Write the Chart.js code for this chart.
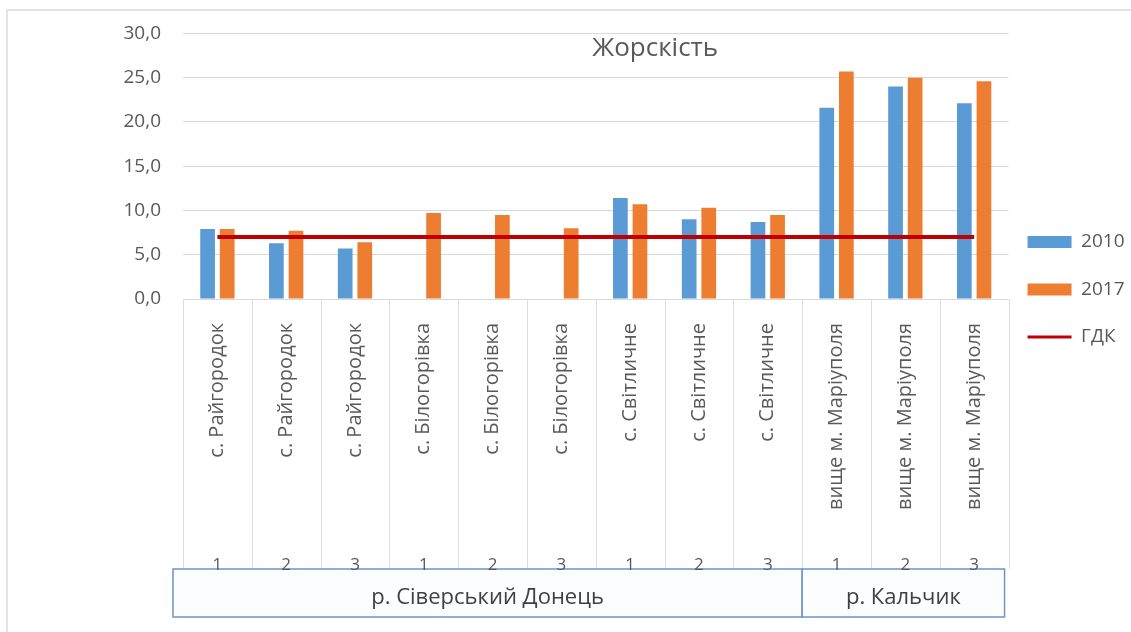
<!DOCTYPE html>
<html>
<head>
<meta charset="utf-8">
<script src="https://cdn.jsdelivr.net/npm/chart.js@4.4.1/dist/chart.umd.min.js"></script>
<style>
    html, body { margin: 0; padding: 0; background: #fff; }
    #wrap { position: relative; width: 1131px; height: 632px; }
    #frame { position: absolute; left: 6px; top: 9px; right: 0; bottom: 0;
             border-top: 2px solid #e4e4e4; border-left: 2px solid #e4e4e4; pointer-events: none; }
</style>
</head>
<body>
<div id="wrap">
    <canvas id="chart" width="1131" height="632"></canvas>
    <div id="frame"></div>
</div>
<script>
// Дані графіка
const chartTitle = 'Жорскість';
const sites = [
    'с. Райгородок', 'с. Райгородок', 'с. Райгородок',
    'с. Білогорівка', 'с. Білогорівка', 'с. Білогорівка',
    'с. Світличне', 'с. Світличне', 'с. Світличне',
    'вище м. Маріуполя', 'вище м. Маріуполя', 'вище м. Маріуполя'
];
const points = ['1', '2', '3', '1', '2', '3', '1', '2', '3', '1', '2', '3'];
const rivers = ['р. Сіверський Донець', 'р. Кальчик'];
const riverSpans = [9, 3];
const values2010 = [7.9, 6.3, 5.7, null, null, null, 11.4, 9.0, 8.7, 21.6, 24.0, 22.1];
const values2017 = [7.9, 7.7, 6.4, 9.7, 9.5, 8.0, 10.7, 10.3, 9.5, 25.7, 25.0, 24.6];
const gdk = [7, 7, 7, 7, 7, 7, 7, 7, 7, 7, 7, 7];
const yMin = 0, yMax = 30, yStep = 5;

Chart.defaults.font.family = '"Open Sans", sans-serif';
Chart.defaults.color = '#595959';

// Заголовок усередині області графіка
const plotTitle = {
    id: 'plotTitle',
    afterDraw(chart, args, opts) {
        const {ctx, chartArea} = chart;
        ctx.save();
        ctx.font = '26px "Open Sans", sans-serif';
        ctx.fillStyle = '#595959';
        ctx.textAlign = 'center';
        ctx.textBaseline = 'middle';
        ctx.fillText(opts.text, chartArea.left + chartArea.width * 0.572, chartArea.top + 15);
        ctx.restore();
    }
};

// Розділювачі категорій, номери точок та рамки річок під віссю
const riverBoxes = {
    id: 'riverBoxes',
    beforeDraw(chart) {
        const {ctx, chartArea} = chart;
        const x = chart.scales.x;
        const step = x.getPixelForValue(1) - x.getPixelForValue(0);
        const edge = i => x.getPixelForValue(0) - step / 2 + i * step;
        const boxTop = chartArea.bottom + 270;
        const boxBottom = boxTop + 48;

        ctx.save();
        ctx.strokeStyle = '#dcdcdc';
        ctx.lineWidth = 1;
        for (let i = 0; i <= sites.length; i++) {
            const px = Math.round(edge(i)) + 0.5;
            ctx.beginPath();
            ctx.moveTo(px, chartArea.bottom);
            ctx.lineTo(px, boxTop);
            ctx.stroke();
        }

        let start = 0;
        rivers.forEach((name, k) => {
            let left = edge(start);
            let right = edge(start + riverSpans[k]);
            if (k === 0) left -= 10;
            if (k === rivers.length - 1) right -= 4;
            ctx.fillStyle = '#fbfdff';
            ctx.fillRect(left, boxTop, right - left, boxBottom - boxTop);
            ctx.strokeStyle = '#6f93c6';
            ctx.lineWidth = 1.5;
            ctx.strokeRect(left, boxTop, right - left, boxBottom - boxTop);
            ctx.fillStyle = '#404040';
            ctx.font = '22px "Open Sans", sans-serif';
            ctx.textAlign = 'center';
            ctx.textBaseline = 'middle';
            ctx.fillText(name, (left + right) / 2, (boxTop + boxBottom) / 2 + 5);
            start += riverSpans[k];
        });

        ctx.fillStyle = '#595959';
        ctx.font = '17px "Open Sans", sans-serif';
        ctx.textAlign = 'center';
        ctx.textBaseline = 'alphabetic';
        points.forEach((p, i) => {
            ctx.fillText(p, x.getPixelForValue(i), boxTop + 1);
        });
        ctx.restore();
    }
};

const chart = new Chart(document.getElementById('chart'), {
    type: 'bar',
    data: {
        labels: sites,
        datasets: [{
            label: '2010',
            data: values2010,
            backgroundColor: '#5B9BD5',
            borderWidth: 0,
            pointStyle: 'rect',
            xAxisID: 'x',
            categoryPercentage: 0.57,
            barPercentage: 0.75,
            order: 2
        }, {
            label: '2017',
            data: values2017,
            backgroundColor: '#ED7D31',
            borderWidth: 0,
            pointStyle: 'rect',
            xAxisID: 'x',
            categoryPercentage: 0.57,
            barPercentage: 0.75,
            order: 2
        }, {
            type: 'line',
            label: 'ГДК',
            data: gdk,
            borderColor: '#C00000',
            backgroundColor: '#C00000',
            borderWidth: 4,
            pointRadius: 0,
            pointBorderWidth: 3,
            pointStyle: 'line',
            xAxisID: 'x',
            order: 1
        }]
    },
    options: {
        responsive: false,
        animation: false,
        layout: {
            padding: { left: 0, right: -3.5, top: 26, bottom: 69.5 }
        },
        plugins: {
            title: { display: false },
            tooltip: { enabled: false },
            plotTitle: { text: chartTitle },
            legend: {
                position: 'right',
                align: 'center',
                labels: {
                    usePointStyle: true,
                    pointStyleWidth: 44,
                    boxHeight: 12,
                    padding: 19,
                    color: '#595959',
                    font: { size: 19, lineHeight: 1.5 },
                    sort: (a, b) => a.datasetIndex - b.datasetIndex,
                    generateLabels(chart) {
                        const items = Chart.defaults.plugins.legend.labels.generateLabels(chart);
                        items.forEach(it => { it.text = [it.text]; });
                        return items;
                    }
                }
            }
        },
        scales: {
            x: {
                type: 'category',
                position: 'bottom',
                grid: { display: false },
                border: { display: false },
                ticks: {
                    minRotation: 90,
                    maxRotation: 90,
                    autoSkip: false,
                    padding: 16,
                    color: '#595959',
                    font: { size: 20 }
                },
                afterFit(scale) { scale.height = 263.5; }
            },
            y: {
                min: yMin,
                max: yMax,
                grid: { color: '#d9d9d9', drawTicks: false },
                border: { display: false },
                ticks: {
                    stepSize: yStep,
                    padding: 22,
                    color: '#595959',
                    font: { size: 19 },
                    callback: v => v.toFixed(1).replace('.', ',')
                },
                afterFit(scale) { scale.width = 183; }
            }
        }
    },
    plugins: [plotTitle, riverBoxes]
});
</script>
</body>
</html>
